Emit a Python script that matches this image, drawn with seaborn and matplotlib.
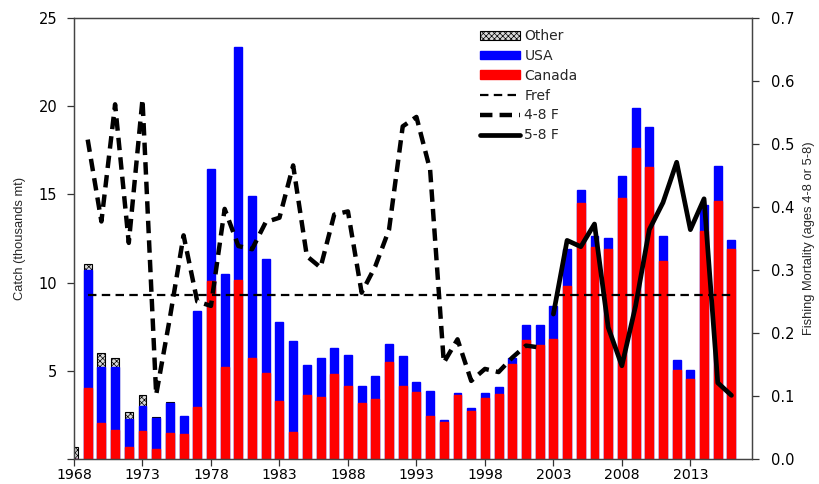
import numpy as np
import pandas as pd
import matplotlib
matplotlib.use("Agg")
import matplotlib.pyplot as plt
import seaborn as sns
from matplotlib.patches import Patch
from matplotlib.lines import Line2D

# ---------------- data ----------------
years = list(range(1968, 2017))
canada = [0.0, 4.0, 2.04, 1.66, 0.66, 1.6, 0.57, 1.47, 1.41, 2.96,
          10.09, 5.19, 10.12, 5.75, 4.9, 3.3, 1.55, 3.64, 3.49, 4.81,
          4.15, 3.15, 3.41, 5.52, 4.15, 3.77, 2.45, 2.07, 3.64, 2.73,
          3.43, 3.68, 5.37, 6.75, 6.47, 6.82, 9.8, 14.52, 12.01, 11.92,
          14.78, 17.61, 16.55, 11.2, 5.03, 4.56, 12.91, 14.61, 11.92]
usa = [0.0, 6.7, 3.18, 3.56, 1.6, 1.4, 1.77, 1.73, 1.04, 5.43,
       6.35, 5.31, 13.26, 9.18, 6.41, 4.49, 5.16, 1.71, 2.22, 1.47,
       1.75, 0.96, 1.32, 1.0, 1.69, 0.6, 1.4, 0.12, 0.11, 0.14,
       0.32, 0.41, 0.38, 0.85, 1.15, 1.85, 2.1, 0.75, 0.62, 0.6,
       1.25, 2.28, 2.25, 1.47, 0.61, 0.51, 1.49, 1.98, 0.52]
other = [0.7, 0.37, 0.78, 0.53, 0.42, 0.62, 0.05, 0.05] + [0.0] * 41

f48_years = list(range(1969, 2003))
f48 = [0.507, 0.377, 0.563, 0.343, 0.571, 0.102, 0.224, 0.355, 0.250, 0.243,
       0.397, 0.338, 0.333, 0.376, 0.383, 0.466, 0.322, 0.304, 0.388, 0.393,
       0.264, 0.306, 0.364, 0.528, 0.543, 0.459, 0.153, 0.190, 0.124, 0.143,
       0.138, 0.161, 0.180, 0.177]
f58_years = list(range(2003, 2017))
f58 = [0.230, 0.347, 0.337, 0.373, 0.209, 0.148, 0.243, 0.364, 0.407, 0.471,
       0.364, 0.413, 0.121, 0.101]
fref_years = [1969, 2016]
fref = [0.26, 0.26]

left_ticks = [0, 5, 10, 15, 20, 25]
left_labels = ["", "5", "10", "15", "20", "25"]
right_ticks = [0.0, 0.1, 0.2, 0.3, 0.4, 0.5, 0.6, 0.7]
x_ticks = [1968, 1973, 1978, 1983, 1988, 1993, 1998, 2003, 2008, 2013]

# ---------------- style ----------------
sns.set_style("ticks")
plt.rcParams['font.family'] = ['DejaVu Sans']
plt.rcParams['hatch.linewidth'] = 0.5
plt.rcParams['hatch.color'] = 'black'

df = pd.DataFrame({"year": years, "canada": canada, "usa": usa, "other": other})
df["cu"] = df["canada"] + df["usa"]
df["total"] = df["cu"] + df["other"]

fig = plt.figure(figsize=(8.19, 4.84), dpi=100)
ax = fig.add_axes([74 / 819, 25 / 484, 678 / 819, 441 / 484])

W = 0.58
sub = df[df["other"] > 0]
sns.barplot(data=sub, x="year", y="total", native_scale=True, width=W,
            color="#d9d9d9", saturation=1, errorbar=None, ax=ax,
            edgecolor="black", linewidth=0.8, hatch="xxxxxx")
sns.barplot(data=df, x="year", y="cu", native_scale=True, width=W,
            color="#0000ff", saturation=1, errorbar=None, ax=ax,
            edgecolor="#0000ff", linewidth=1.0)
sns.barplot(data=df, x="year", y="canada", native_scale=True, width=W,
            color="#ff0000", saturation=1, errorbar=None, ax=ax,
            edgecolor="#ff0000", linewidth=1.0)

ax.set_xlim(1968, 2017.5)
ax.set_ylim(0, 25)
ax.set_xticks(x_ticks)
ax.set_xticklabels([str(t) for t in x_ticks])
ax.set_yticks(left_ticks)
ax.set_yticklabels(left_labels)
ax.set_xlabel("")
ax.set_ylabel("Catch (thousands mt)", fontsize=9.3, labelpad=9,
              family=["Liberation Sans", "DejaVu Sans"])
ax.tick_params(axis="both", direction="out", length=5, width=0.9,
               colors="#333333", labelcolor="black", labelsize=10.5)
ax.tick_params(axis="x", pad=1.5, labelsize=10.2)
ax.tick_params(axis="y", pad=7)

ax2 = ax.twinx()
sns.lineplot(x=fref_years, y=fref, ax=ax2, color="black", linewidth=1.6,
             linestyle=(0, (3.8, 2.4)))
sns.lineplot(x=f48_years, y=f48, ax=ax2, color="black", linewidth=3.2,
             linestyle=(0, (2.8, 1.6)))
sns.lineplot(x=f58_years, y=f58, ax=ax2, color="black", linewidth=3.4)
ax2.set_ylim(0, 0.7)
ax2.set_yticks(right_ticks)
ax2.set_yticklabels([f"{t:.1f}" for t in right_ticks])
ax2.set_ylabel("Fishing Mortality (ages 4-8 or 5-8)", fontsize=9.3, labelpad=6,
               family=["Liberation Sans", "DejaVu Sans"])
ax2.tick_params(axis="y", direction="out", length=5, width=0.9,
                colors="#333333", labelcolor="black", labelsize=10.5, pad=9)

for a in (ax, ax2):
    for s in a.spines.values():
        s.set_color("#444444")
        s.set_linewidth(0.9)

handles = [
    Patch(facecolor="#d9d9d9", edgecolor="black", hatch="xxxxxx", linewidth=0.8),
    Patch(facecolor="#0000ff", edgecolor="#0000ff"),
    Patch(facecolor="#ff0000", edgecolor="#ff0000"),
    Line2D([], [], color="black", linewidth=1.6, linestyle=(0, (3.8, 2.4))),
    Line2D([], [], color="black", linewidth=3.2, linestyle=(0, (2.8, 1.6))),
    Line2D([], [], color="black", linewidth=3.4),
]
labels = ["Other", "USA", "Canada", "Fref", "4-8 F", "5-8 F"]
ax2.legend(handles, labels, loc="upper left",
           bbox_to_anchor=(480 / 819, 1 - 29 / 484), bbox_transform=fig.transFigure,
           frameon=False, fontsize=10, handlelength=2.9, handleheight=0.6,
           handletextpad=0.3, labelspacing=0.42, borderpad=0, borderaxespad=0)

fig.savefig("out.png", dpi=100)
